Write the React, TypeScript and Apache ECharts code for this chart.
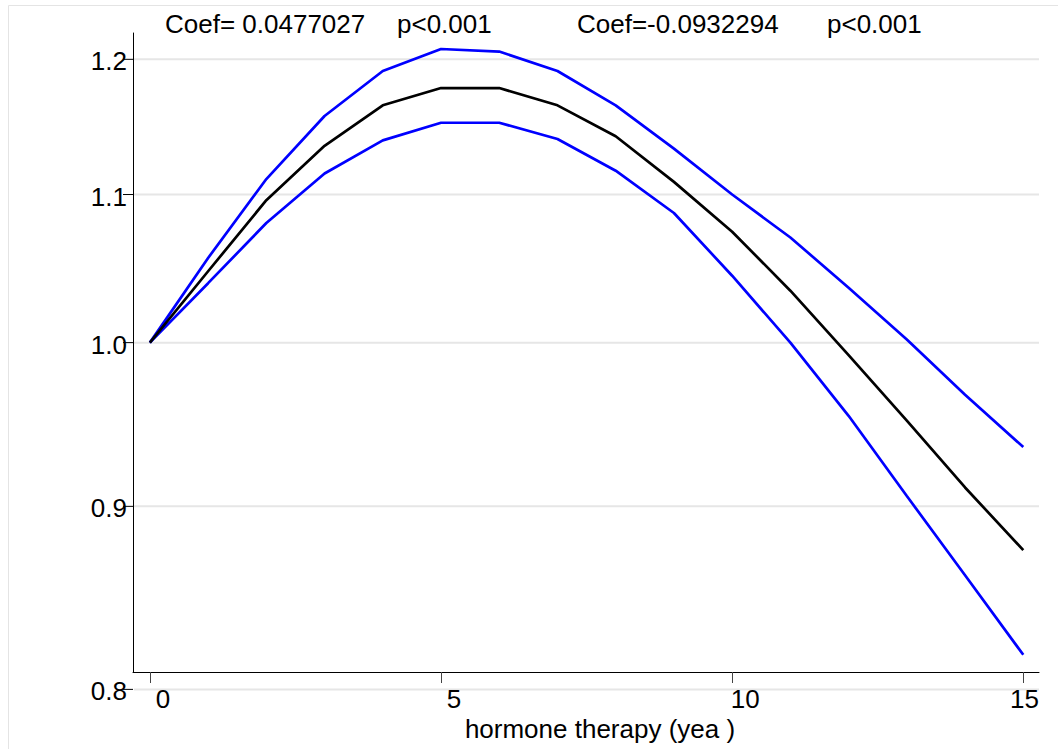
import { useEffect, useRef } from "react";
import * as echarts from "echarts";

// ---- data ----
const years = [0, 1, 2, 3, 4, 5, 6, 7, 8, 9, 10, 11, 12, 13, 14, 15];
const estimate = [1.0, 1.047, 1.096, 1.135, 1.165, 1.178, 1.178, 1.165, 1.142, 1.109, 1.074, 1.034, 0.992, 0.951, 0.911, 0.875];
const upperCI = [1.0, 1.056, 1.111, 1.157, 1.191, 1.208, 1.206, 1.191, 1.165, 1.133, 1.1, 1.07, 1.036, 1.002, 0.967, 0.935];
const lowerCI = [1.0, 1.039, 1.08, 1.115, 1.139, 1.152, 1.152, 1.14, 1.117, 1.087, 1.044, 1.0, 0.954, 0.906, 0.861, 0.818];

const yTickValues = [0.8, 0.9, 1.0, 1.1, 1.2];
const yTickLabels = ["0.8", "0.9", "1.0", "1.1", "1.2"];
const xTickValues = [0, 5, 10, 15];
const xTickLabels = ["0", "5", "10", "15"];
const annotationTexts = ["Coef= 0.0477027", "p<0.001", "Coef=-0.0932294", "p<0.001"];
const xAxisTitle = "hormone therapy (yea )";

// axis ranges (natural units; y is drawn on a log scale)
const X_MIN = -0.29;
const X_MAX = 15.27;
const Y_MIN = 0.809;
const Y_MAX = 1.2205;

const FONT = "'Liberation Sans', Arial, Helvetica, sans-serif";
const FS = 26;

const toPairs = (vals: number[]) => years.map((x, i) => [x, Math.log(vals[i])]);

export default function App() {
  const ref = useRef<HTMLDivElement>(null);

  useEffect(() => {
    if (!ref.current) return;
    const chart = echarts.init(ref.current, undefined, { renderer: "svg" });

    const annX = [165, 397, 577, 827];

    const option: any = {
      animation: false,
      backgroundColor: "#ffffff",
      grid: { left: 133, right: 19, top: 33, bottom: 77, containLabel: false },
      xAxis: {
        type: "value",
        min: X_MIN,
        max: X_MAX,
        axisLine: { show: true, onZero: false, lineStyle: { color: "#000", width: 1 } },
        axisTick: { show: true, customValues: xTickValues, length: 11, lineStyle: { color: "#444", width: 1 } },
        axisLabel: { show: false },
        splitLine: { show: false },
      },
      yAxis: {
        type: "value",
        min: Math.log(Y_MIN),
        max: Math.log(Y_MAX),
        axisLine: { show: true, onZero: false, lineStyle: { color: "#000", width: 1 } },
        axisTick: { show: false },
        axisLabel: { show: false },
        splitLine: { show: false },
      },
      graphic: [
        {
          type: "rect",
          shape: { x: 8.5, y: 5.5, width: 1060, height: 760 },
          style: { fill: "none", stroke: "#e4e4e4", lineWidth: 1 },
          silent: true,
          z: -1,
        },
        ...annotationTexts.map((t, i) => ({
          type: "text",
          x: annX[i],
          y: 24,
          style: {
            text: t,
            fontSize: FS,
            fontFamily: FONT,
            fill: "#000",
            align: "left",
            textAlign: "left",
            verticalAlign: "middle",
            textVerticalAlign: "middle",
          },
        })),
        {
          type: "text",
          x: 600,
          y: 729,
          style: {
            text: xAxisTitle,
            fontSize: FS,
            fontFamily: FONT,
            fill: "#000",
            align: "center",
            textAlign: "center",
            verticalAlign: "middle",
            textVerticalAlign: "middle",
          },
        },
      ],
      series: [
        {
          name: "yTicks",
          type: "custom",
          z: 1,
          clip: false,
          silent: true,
          data: yTickValues.map((v, i) => [X_MIN, Math.log(v), i]),
          renderItem: (params: any, api: any) => {
            const cs = params.coordSys;
            const p = api.coord([api.value(0), api.value(1)]);
            const y = p[1];
            const label = yTickLabels[api.value(2) as number];
            return {
              type: "group",
              children: [
                {
                  type: "line",
                  shape: { x1: cs.x + 1, y1: y, x2: cs.x + cs.width, y2: y },
                  style: { stroke: "#e6e6e6", lineWidth: 2 },
                },
                {
                  type: "line",
                  shape: { x1: cs.x - 10, y1: y, x2: cs.x, y2: y },
                  style: { stroke: "#000", lineWidth: 1 },
                },
                {
                  type: "text",
                  x: cs.x - 6,
                  y: y + 2,
                  style: {
                    text: label,
                    fontSize: FS,
                    fontFamily: FONT,
                    fill: "#000",
                    align: "right",
                    textAlign: "right",
                    verticalAlign: "middle",
                    textVerticalAlign: "middle",
                  },
                },
              ],
            };
          },
        },
        {
          name: "xLabels",
          type: "custom",
          z: 1,
          clip: false,
          silent: true,
          data: xTickValues.map((v, i) => [v, Math.log(Y_MIN), i]),
          renderItem: (params: any, api: any) => {
            const cs = params.coordSys;
            const p = api.coord([api.value(0), api.value(1)]);
            const label = xTickLabels[api.value(2) as number];
            const w = label.length * 0.556 * FS;
            const cx = Math.min(p[0] + 13, cs.x + cs.width - w / 2);
            return {
              type: "text",
              x: cx,
              y: cs.y + cs.height + 27,
              style: {
                text: label,
                fontSize: FS,
                fontFamily: FONT,
                fill: "#000",
                align: "center",
                textAlign: "center",
                verticalAlign: "middle",
                textVerticalAlign: "middle",
              },
            };
          },
        },
        {
          name: "Upper CI",
          type: "line",
          z: 3,
          data: toPairs(upperCI),
          showSymbol: false,
          symbol: "none",
          lineStyle: { color: "#0000ff", width: 2.7 },
        },
        {
          name: "Lower CI",
          type: "line",
          z: 3,
          data: toPairs(lowerCI),
          showSymbol: false,
          symbol: "none",
          lineStyle: { color: "#0000ff", width: 2.7 },
        },
        {
          name: "Estimate",
          type: "line",
          z: 4,
          data: toPairs(estimate),
          showSymbol: false,
          symbol: "none",
          lineStyle: { color: "#000000", width: 2.7 },
        },
      ],
    };

    chart.setOption(option);
    return () => chart.dispose();
  }, []);

  return (
    <div
      ref={ref}
      style={{ position: "absolute", left: 0, top: 0, width: 1058, height: 749 }}
    />
  );
}
